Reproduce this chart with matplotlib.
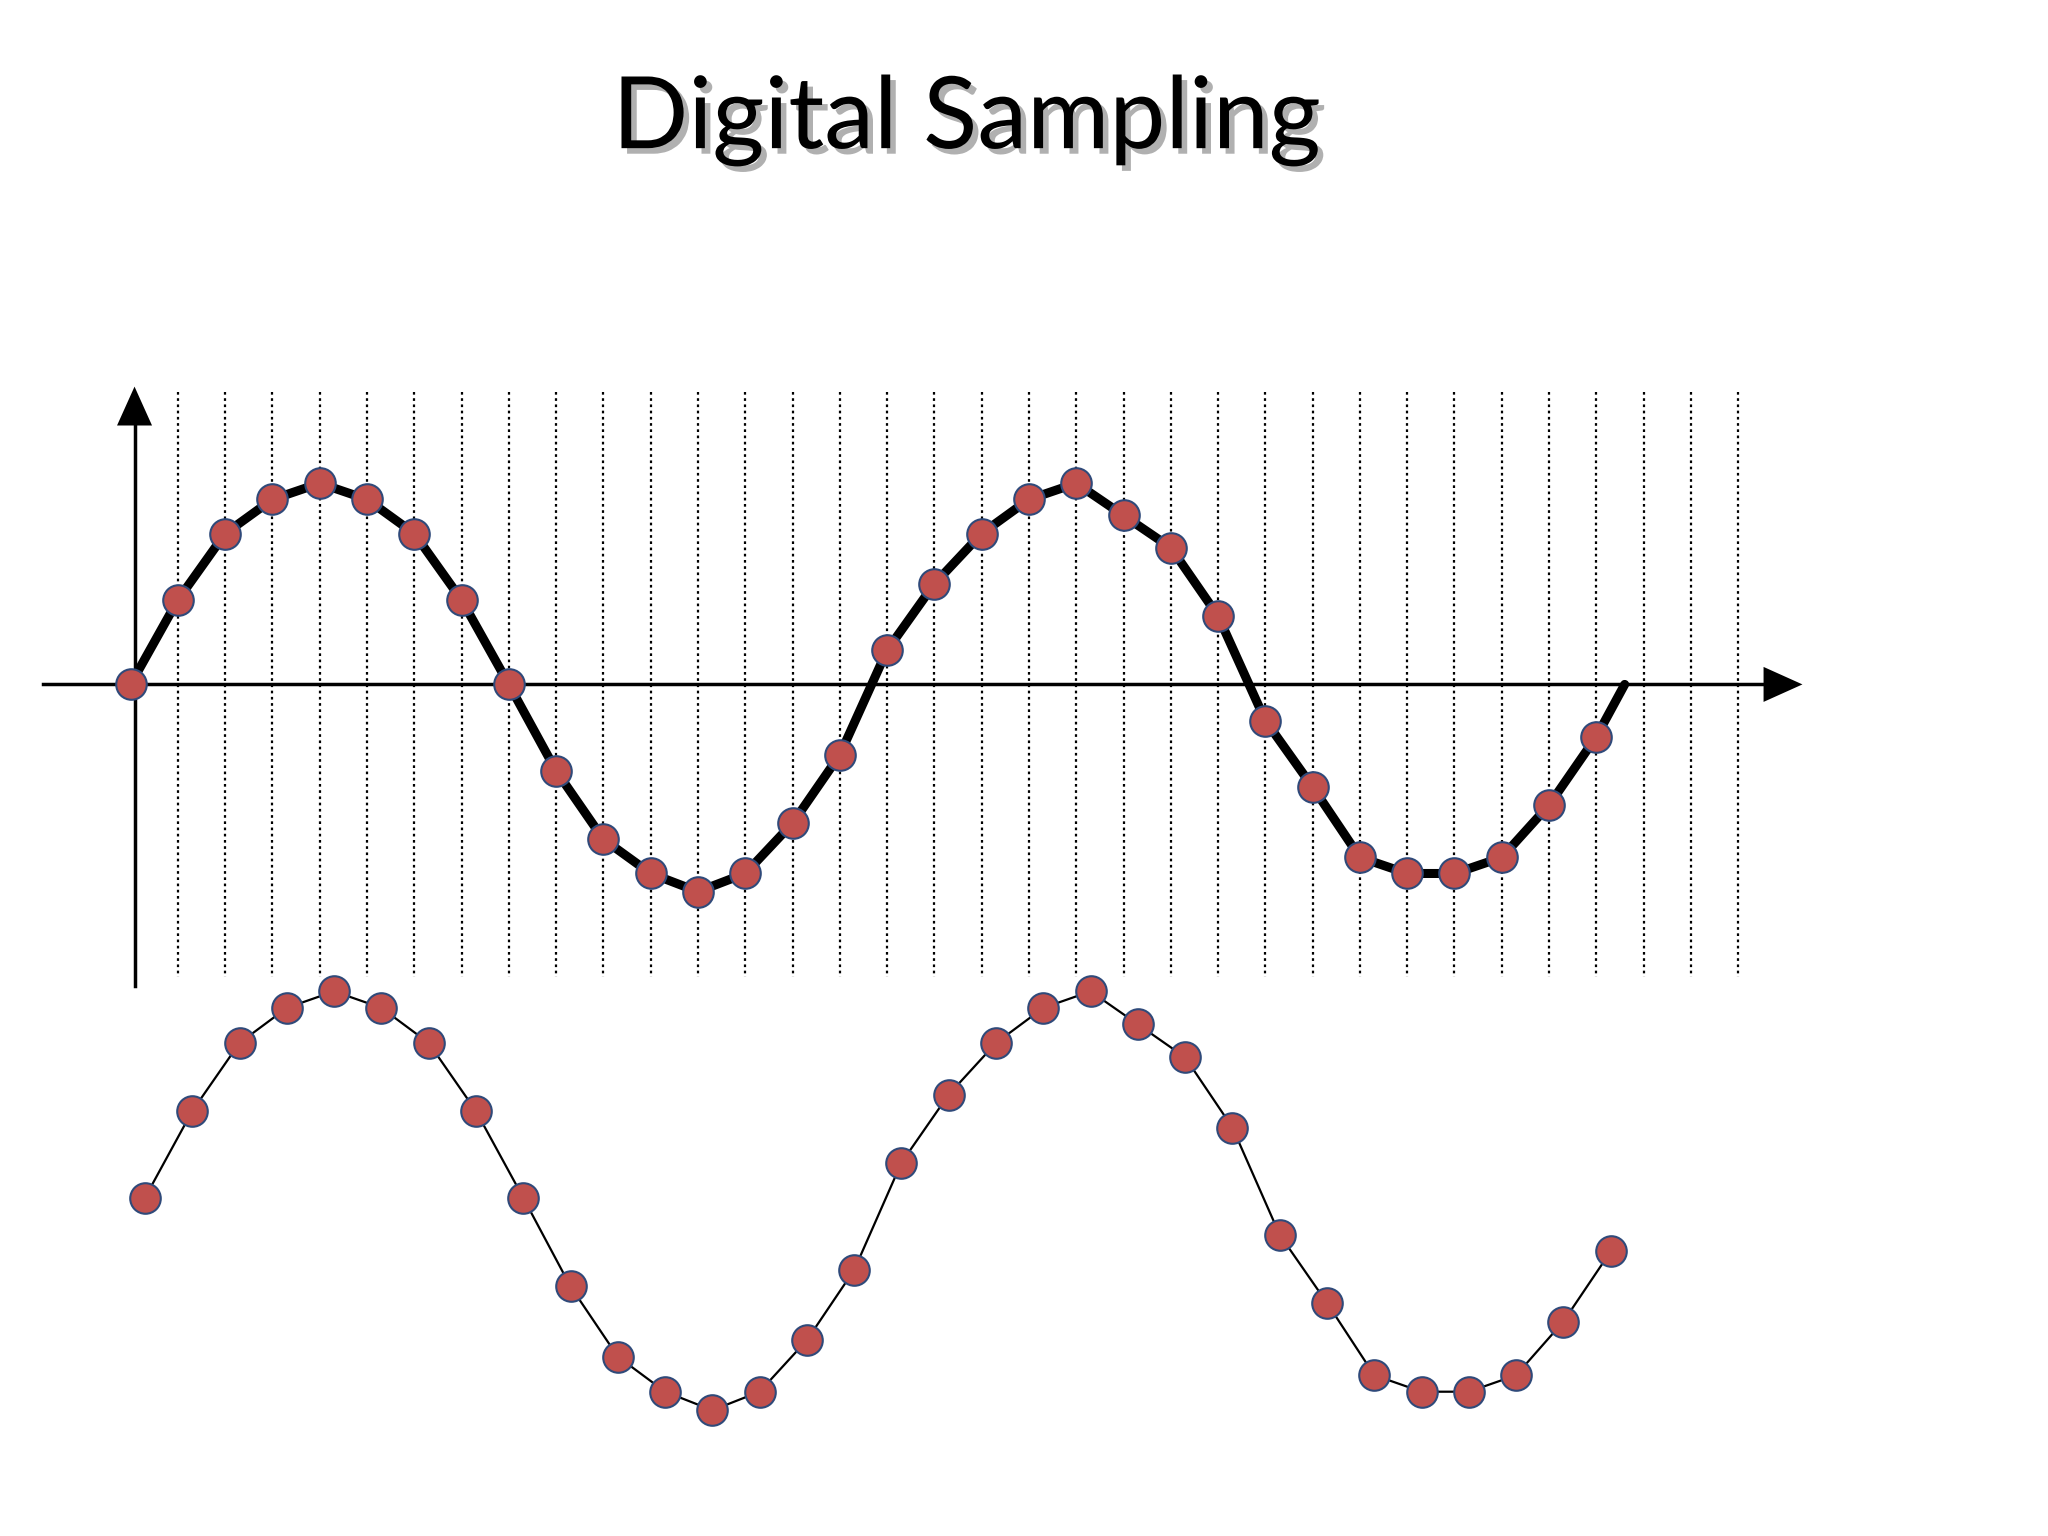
import numpy as np
import matplotlib.pyplot as plt
from matplotlib.patheffects import withSimplePatchShadow

# sample values (unit amplitude), one per grid line
samples = [0, 0.42, 0.75, 0.92, 1.0, 0.92, 0.75, 0.42, 0, -0.43, -0.77, -0.94,
           -1.03, -0.94, -0.69, -0.35, 0.17, 0.50, 0.75, 0.92, 1.0, 0.84, 0.68,
           0.34, -0.18, -0.51, -0.86, -0.94, -0.94, -0.86, -0.60, -0.26]
# continuous wave drawn behind the samples (ends back on the axis)
curve_x = list(range(len(samples))) + [31.6]
curve_y = samples + [0]

x0, y0, dx, amp = 100, 524, 36.2, 154          # top panel placement
bx0, by0, bamp = 111, 917, 158                 # bottom panel placement
red, edge = '#C0504D', '#2F4A7A'

fig = plt.figure(figsize=(20.48, 15.36), dpi=100)
ax = fig.add_axes([0, 0, 1, 1])
ax.set_xlim(0, 1568)
ax.set_ylim(1176, 0)
ax.axis('off')

# dotted sampling grid
for i in range(1, 35):
    ax.plot([x0 + i * dx] * 2, [300, 748], color='black', ls=(0, (1.2, 1.6)), lw=1.6)

# axes with arrows
head = dict(arrowstyle='-|>,head_width=0.45,head_length=1.0', color='black', lw=0,
            mutation_scale=28, shrinkA=0, shrinkB=0)
ax.plot([103, 103], [755, 315], color='black', lw=2.5)
ax.annotate('', xy=(103, 296), xytext=(103, 320), arrowprops=head)
ax.plot([33, 1362], [y0, y0], color='black', lw=2.5)
ax.annotate('', xy=(1380, y0), xytext=(1356, y0), arrowprops=head)

xs = x0 + dx * np.arange(len(samples))
ys = y0 - amp * np.array(samples)
ax.plot(x0 + dx * np.array(curve_x), y0 - amp * np.array(curve_y), color='black', lw=6.5,
        solid_capstyle='round', solid_joinstyle='round', zorder=3)
ax.plot(xs, ys, 'o', ms=22, mfc=red, mec=edge, mew=1.5, zorder=4)

# reconstructed (sampled) signal
bxs = bx0 + dx * np.arange(len(samples))
bys = by0 - bamp * np.array(samples)
ax.plot(bxs, bys, '-o', color='black', lw=1.6, ms=22, mfc=red, mec=edge, mew=1.5)

ax.text(740, 92, 'Digital Sampling', ha='center', va='center', fontsize=72,
        family=['Lato', 'DejaVu Sans'],
        path_effects=[withSimplePatchShadow(offset=(4, -4), shadow_rgbFace='#b0b0b0', alpha=1)])

fig.savefig('out.png')
